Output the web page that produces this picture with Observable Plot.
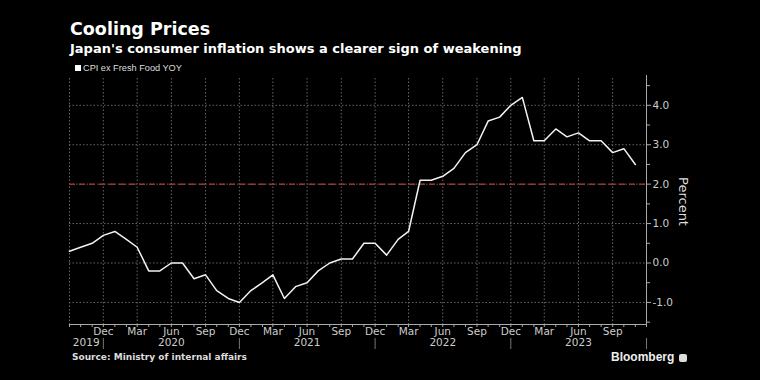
<!DOCTYPE html>
<html><head><meta charset="utf-8">
<script src="https://cdn.jsdelivr.net/npm/d3@7"></script>
<script src="https://cdn.jsdelivr.net/npm/@observablehq/plot@0.6"></script>
<style>
html,body{margin:0;padding:0;background:#000;}
#wrap{position:relative;width:760px;height:380px;background:#000;overflow:hidden;font-family:"DejaVu Sans",sans-serif;}
.t{position:absolute;line-height:1;white-space:nowrap;}
#title{left:70px;top:21px;font-size:17.5px;font-weight:bold;color:#fff;}
#subtitle{left:70px;top:42px;font-size:13px;font-weight:bold;color:#fff;}
#legend{left:75px;top:64px;font-size:9.2px;color:#ddd;font-family:"Liberation Sans",sans-serif;}
#legend span.sw{display:inline-block;width:6px;height:6px;background:#fff;margin-right:2px;vertical-align:0px;}
#source{left:72px;top:353px;font-size:9px;font-weight:bold;color:#ddd;}
#brand{left:611px;top:351px;font-size:12px;font-weight:bold;color:#eee;font-family:"Liberation Sans",sans-serif;}
#brand span.ic{display:inline-block;width:8px;height:8px;background:#ddd;border-radius:2px;margin-left:5px;vertical-align:-1px;}
#chart{position:absolute;left:0;top:75px;}
</style></head>
<body>
<div id="wrap">
  <div id="title" class="t">Cooling Prices</div>
  <div id="subtitle" class="t">Japan's consumer inflation shows a clearer sign of weakening</div>
  <div id="legend" class="t"><span class="sw"></span>CPI ex Fresh Food YOY</div>
  <div id="chart"></div>
  <div id="source" class="t">Source: Ministry of internal affairs</div>
  <div id="brand" class="t">Bloomberg<span class="ic"></span></div>
</div>
<script>
const months = [
  "2019-09","2019-10","2019-11","2019-12",
  "2020-01","2020-02","2020-03","2020-04","2020-05","2020-06","2020-07","2020-08","2020-09","2020-10","2020-11","2020-12",
  "2021-01","2021-02","2021-03","2021-04","2021-05","2021-06","2021-07","2021-08","2021-09","2021-10","2021-11","2021-12",
  "2022-01","2022-02","2022-03","2022-04","2022-05","2022-06","2022-07","2022-08","2022-09","2022-10","2022-11","2022-12",
  "2023-01","2023-02","2023-03","2023-04","2023-05","2023-06","2023-07","2023-08","2023-09","2023-10","2023-11"
];
const cpi = [
  0.3,0.4,0.5,0.7,
  0.8,0.6,0.4,-0.2,-0.2,0.0,0.0,-0.4,-0.3,-0.7,-0.9,-1.0,
  -0.7,-0.5,-0.3,-0.9,-0.6,-0.5,-0.2,0.0,0.1,0.1,0.5,0.5,
  0.2,0.6,0.8,2.1,2.1,2.2,2.4,2.8,3.0,3.6,3.7,4.0,
  4.2,3.1,3.1,3.4,3.2,3.3,3.1,3.1,2.8,2.9,2.5
];
const quarterTicks = ["2019-12","2020-03","2020-06","2020-09","2020-12","2021-03","2021-06","2021-09","2021-12","2022-03","2022-06","2022-09","2022-12","2023-03","2023-06","2023-09"];
const gridMonths = ["2019-09","2019-12","2020-03","2020-06","2020-09","2020-12","2021-03","2021-06","2021-09","2021-12","2022-03","2022-06","2022-09","2022-12","2023-03","2023-06","2023-09"];
const yearLabels = ["2019","2020","2021","2022","2023"];
const yearLabelDates = ["2019-10-16","2020-06-01","2021-06-01","2022-06-01","2023-06-01"];
const yearSeparators = ["2019-12","2020-12","2021-12","2022-12","2023-12"];
const yTicks = [-1,0,1,2,3,4];
const yMinorTicks = [-1.5,-0.5,0.5,1.5,2.5,3.5,4.5];
const targetLine = [2];
const xDomain = ["2019-09","2023-12"];
const yDomain = [-1.56,4.68];

const P = s => d3.utcParse(s.length > 7 ? "%Y-%m-%d" : "%Y-%m")(s);
const data = months.map((m,i) => ({date: P(m), value: cpi[i]}));
const allMonths = d3.utcMonth.range(P(xDomain[0]), d3.utcMonth.offset(P(xDomain[1]),1));
const years = yearLabels.map((t,i) => ({date: P(yearLabelDates[i]), label: t}));

const chart = Plot.plot({
  width: 760, height: 282,
  marginLeft: 69, marginRight: 114, marginTop: 3, marginBottom: 33,
  style: {background: "#000", color: "#ccc", fontFamily: "DejaVu Sans, sans-serif"},
  x: {type: "utc", domain: xDomain.map(P)},
  y: {domain: yDomain},
  marks: [
    Plot.gridY(yTicks, {stroke: "#666", strokeOpacity: 1, strokeDasharray: "1.5,2"}),
    Plot.gridX(gridMonths.map(P), {stroke: "#666", strokeOpacity: 1, strokeDasharray: "1.5,2"}),
    Plot.ruleY(targetLine, {stroke: "#9a3338", strokeWidth: 1.5, strokeDasharray: "6,4"}),
    Plot.line(data, {x: "date", y: "value", stroke: "#f2f2f2", strokeWidth: 1.5}),
    Plot.ruleY([yDomain[0]], {stroke: "#aaa"}),
    Plot.ruleX([P(xDomain[1])], {stroke: "#aaa", insetTop: -4, insetBottom: -1}),
    Plot.axisX(allMonths, {tickSize: 3, tickFormat: () => "", stroke: "#aaa"}),
    Plot.axisX(quarterTicks.map(P), {tickSize: 0, tickPadding: 3, tickFormat: d3.utcFormat("%b"), fontSize: 10.5, fill: "#ccc", label: null}),
    Plot.axisX(yearSeparators.map(P), {tickSize: 11, dy: 14, tickFormat: () => "", stroke: "#777", label: null}),
    Plot.text(years, {x: "date", text: "label", frameAnchor: "bottom", dy: 21, fontSize: 10.5, fill: "#ccc"}),
    Plot.axisY(yTicks, {anchor: "right", tickSize: 4, tickPadding: 2, tickFormat: d => d.toFixed(1), fontSize: 10.5, fill: "#ccc", stroke: "#aaa", label: null}),
    Plot.axisY(yMinorTicks, {anchor: "right", tickSize: 3, tickFormat: () => "", stroke: "#aaa", label: null}),
    Plot.text(["Percent"], {frameAnchor: "right", textAnchor: "middle", dx: 37, rotate: 90, fontSize: 13, fill: "#ddd"})
  ]
});
document.getElementById("chart").appendChild(chart);
</script>
</body></html>
